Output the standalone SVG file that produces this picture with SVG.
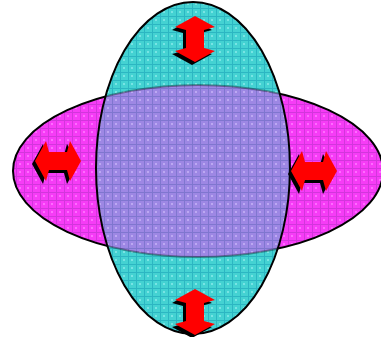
<svg xmlns="http://www.w3.org/2000/svg" width="381" height="337" viewBox="0 0 381 337">
<defs>
<pattern id="pm" width="8" height="8" patternUnits="userSpaceOnUse">
<rect width="8" height="8" fill="#f63cf6"/>
<path d="M0 0.5H8M0.5 0V8" stroke="#d236dc" stroke-width="1"/>
<rect x="3" y="3" width="2" height="2" fill="#ff6cff"/>
</pattern>
<pattern id="pc" width="8" height="8" patternUnits="userSpaceOnUse">
<rect width="8" height="8" fill="#44d2d2"/>
<path d="M0 0.5H8M0.5 0V8" stroke="#2cb6c2" stroke-width="1"/>
<rect x="3" y="3" width="2" height="2" fill="#78e4e4"/>
</pattern>
<clipPath id="cv"><ellipse cx="193" cy="168" rx="97" ry="166"/></clipPath>
<path id="av" d="M0,-23 L20,-12 L9,-9 L9,9 L20,12 L0,23 L-20,12 L-9,9 L-9,-9 L-20,-12 Z"/>
<path id="ah" d="M-23,0 L-12,-20 L-9,-9 L9,-9 L12,-20 L23,0 L12,20 L9,9 L-9,9 L-12,20 Z"/>
</defs>
<style>
.ell{stroke:#000;stroke-width:2}
.sh{fill:#000}
.ar{fill:#ff0000}
</style>
<g id="horizontal-ellipse">
<ellipse class="ell" cx="198" cy="171" rx="185" ry="86" fill="url(#pm)"/>
</g>
<g id="vertical-ellipse">
<ellipse cx="193" cy="168" rx="97" ry="166" fill="url(#pc)"/>
<g clip-path="url(#cv)">
<ellipse cx="198" cy="171" rx="185" ry="86" fill="url(#pm)" fill-opacity="0.5" stroke="#000" stroke-opacity="0.35" stroke-width="2"/>
</g>
<ellipse class="ell" cx="193" cy="168" rx="97" ry="166" fill="none"/>
</g>
<g id="arrow-top">
<use href="#av" class="sh" transform="translate(192,42)"/>
<use href="#av" class="ar" transform="translate(195,39)"/>
</g>
<g id="arrow-bottom">
<use href="#av" class="sh" transform="translate(192,315)"/>
<use href="#av" class="ar" transform="translate(195,312)"/>
</g>
<g id="arrow-left">
<use href="#ah" class="sh" transform="translate(55,164)"/>
<use href="#ah" class="ar" transform="translate(58,161)"/>
</g>
<g id="arrow-right">
<use href="#ah" class="sh" transform="translate(311,174)"/>
<use href="#ah" class="ar" transform="translate(314,171)"/>
</g>
</svg>
